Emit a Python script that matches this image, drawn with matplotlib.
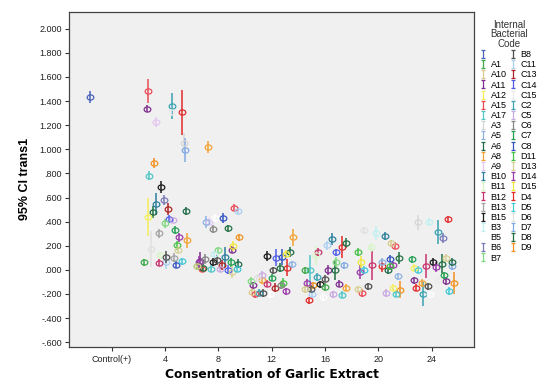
import numpy as np
import pandas as pd
import matplotlib
matplotlib.use("Agg")
import matplotlib.pyplot as plt
from matplotlib.path import Path
from matplotlib.transforms import Affine2D
from matplotlib.lines import Line2D
from matplotlib.ticker import FuncFormatter

plt.rcParams['font.family'] = ['Liberation Sans', 'DejaVu Sans']

# legend order and colours (SPSS style palette)
codes = ["", "A1", "A10", "A11", "A12", "A15", "A17", "A3", "A5", "A6", "A8", "A9",
         "B10", "B11", "B12", "B13", "B15", "B3", "B5", "B6", "B7",
         "B8", "C11", "C13", "C14", "C15", "C2", "C5", "C6", "C7", "C8",
         "D11", "D13", "D14", "D15", "D4", "D5", "D6", "D7", "D8", "D9"]
code_colors = ["#4a63b8", "#3ea84a", "#d8cb8e", "#7e2f8e", "#f3ee5c", "#ea4a55", "#4fc6c6",
               "#d6d6d6", "#8fb2e2", "#1f6b4a", "#f5a233", "#e6c6f2",
               "#2b7f9c", "#d6f5c6", "#c8336e", "#a3a3a3", "#1c1c1c", "#bff0f2", "#ffffff",
               "#7a7ab8", "#7fd87f",
               "#505050", "#a8d0f2", "#b02424", "#4f5ce8", "#ebebeb", "#3aa2b2", "#c9a9e2",
               "#868686", "#22a052", "#3454c2",
               "#44c044", "#d8d092", "#9a3aa8", "#f0e83e", "#e22a2a", "#42c8d8", "#e0e0e0",
               "#82aae2", "#207042", "#f29222"]

# points: code, x position, mean, half width of 95% CI
pt_code = ["",
           "A15", "A11", "A9", "C2", "C15", "D4", "A3", "D7", "A8", "D9", "A17", "B15",
           "B6", "B10", "D8", "A12", "C13", "A6", "C14", "C5", "B7", "C7", "B13", "D14",
           "A8", "D11", "D6", "D13", "A5", "A9", "B5", "C8", "C6", "D8", "A15", "C11",
           "D9", "D15", "A11",
           "A1", "B12", "B11", "B8", "B13", "C8", "C11", "D5", "D14", "D11", "B7", "B3",
           "B10", "C6", "A11", "B15", "B8", "C7", "A6", "C13", "A10", "D8", "A15", "A17",
           "C14", "D13", "C5", "D5",
           "B15", "C14", "C8", "D15", "A6", "B8", "D8", "D4", "C5", "C7", "D11", "B7",
           "A8", "D6", "A11", "A10", "C2", "A15", "B8", "B5", "C13", "C6", "B12", "D14",
           "A8", "A5", "B10", "C11", "D8", "D4", "B12", "B11", "C14", "B7", "D7", "D11",
           "D6", "B3", "B11", "D15", "D14", "D5", "B12", "A1", "A17", "C2", "B8", "A11",
           "D8", "D14", "D9", "A10", "B15", "A1", "B8", "C11", "D4", "B5", "C5", "A11",
           "A8", "A17", "D13", "A15", "B8",
           "A3", "B3", "D4", "C2", "B6", "B10", "A15", "A10", "D8", "C7", "A5", "C8",
           "D11", "D14", "D4", "A6", "B15", "D13", "A6", "D7", "D8", "D14", "B12", "A12",
           "D5", "C7", "A5", "A11", "D9", "A11", "A8", "C15", "D4", "A12", "D9", "B8",
           "C2", "B5", "D5", "C5", "A17"]
pt_x = [-1.63,
        2.75, 2.62, 3.30, 4.50, 4.45, 5.25, 5.42, 5.47, 7.20, 3.20, 2.82, 3.67,
        3.92, 3.35, 3.10, 2.70, 4.25, 5.55, 4.32, 4.62, 4.00, 4.75, 3.57, 5.05,
        5.62, 4.87, 2.92, 5.00, 7.05, 7.32, 7.75, 8.32, 7.57, 8.75, 9.20, 9.45,
        9.55, 9.10, 9.05,
        2.45, 3.52, 3.60, 4.07, 4.67, 4.82, 4.05, 5.30, 6.52, 6.40, 8.00, 7.70,
        8.50, 7.00, 6.62, 7.62, 7.87, 8.93, 9.50, 8.25, 6.37, 6.87, 6.75, 7.45,
        8.75, 9.00, 8.12, 9.38,
        11.67, 12.32, 12.80, 13.10, 13.37, 12.07, 12.62, 13.12, 11.25, 12.00, 12.87, 10.45,
        11.25, 10.87, 10.62, 10.50, 11.05, 10.75, 11.37, 11.87, 12.25, 12.70, 11.62, 13.05,
        13.62, 13.50, 16.50, 16.13, 17.57, 17.25, 15.50, 15.30, 16.83, 16.87, 17.45, 18.50,
        18.95, 19.80, 19.45, 18.70, 18.62, 18.95, 19.55, 14.50, 14.87, 15.37, 16.00, 16.25,
        16.75, 14.62, 15.12, 14.50, 15.62, 16.00, 14.95, 15.05, 14.80, 15.87, 16.62, 17.05,
        17.62, 17.32, 18.50, 18.80, 19.20,
        22.95, 23.80, 25.25, 24.50, 24.87, 20.50, 21.25, 20.95, 21.55, 22.50, 20.25, 20.87,
        20.87, 21.12, 20.30, 20.75, 24.12, 25.05, 25.57, 25.50, 24.75, 24.30, 23.55, 22.70,
        22.95, 24.95, 21.50, 25.05, 25.67, 22.70, 23.25, 24.45, 22.87, 21.12, 21.62, 23.70,
        23.37, 23.87, 25.30, 20.62, 21.30]
pt_mean = [1.431,
           1.486, 1.336, 1.226, 1.360, 1.310, 1.306, 1.056, 0.995, 1.018, 0.887, 0.782, 0.685,
           0.579, 0.546, 0.482, 0.440, 0.504, 0.488, 0.421, 0.413, 0.385, 0.330, 0.302, 0.269,
           0.244, 0.202, 0.174, 0.168, 0.394, 0.400, 0.430, 0.432, 0.338, 0.346, 0.515, 0.490,
           0.270, 0.200, 0.168,
           0.061, 0.058, 0.120, 0.107, 0.102, 0.044, 0.066, 0.072, 0.063, 0.030, 0.163, 0.130,
           0.107, 0.088, 0.072, 0.066, 0.080, 0.061, 0.052, 0.038, 0.030, 0.019, 0.011, 0.011,
           0.002, -0.017, 0.011, 0.011,
           0.113, 0.102, 0.107, 0.135, 0.149, -0.003, 0.019, 0.019, -0.040, -0.064, -0.109, -0.092,
           -0.087, -0.064, -0.128, -0.184, -0.190, -0.203, -0.192, -0.203, -0.147, -0.128, -0.114, -0.178,
           0.269, 0.047, 0.252, 0.202, 0.225, 0.191, 0.149, 0.120, 0.144, 0.066, 0.038, 0.149,
           0.329, 0.307, 0.186, 0.066, -0.017, 0.002, 0.038, -0.003, -0.003, -0.059, -0.073, -0.003,
           -0.003, -0.109, -0.128, -0.162, -0.120, -0.142, -0.156, -0.203, -0.253, -0.225, -0.203, -0.114,
           -0.147, -0.206, -0.162, -0.192, -0.137,
           0.394, 0.400, 0.419, 0.316, 0.266, 0.280, 0.200, 0.219, 0.102, 0.086, 0.065, 0.094,
           0.030, 0.038, 0.030, -0.003, 0.066, 0.099, 0.066, 0.030, 0.052, 0.025, 0.030, 0.017,
           0.002, -0.045, -0.053, -0.092, -0.109, -0.087, -0.109, -0.081, -0.147, -0.147, -0.164, -0.137,
           -0.197, -0.203, -0.175, -0.192, -0.197]
pt_err = [0.05,
          0.10, 0.03, 0.04, 0.11, 0.03, 0.19, 0.08, 0.10, 0.05, 0.04, 0.04, 0.05,
          0.04, 0.09, 0.05, 0.16, 0.05, 0.03, 0.03, 0.02, 0.04, 0.03, 0.04, 0.04,
          0.06, 0.04, 0.15, 0.03, 0.05, 0.03, 0.03, 0.04, 0.03, 0.03, 0.03, 0.03,
          0.03, 0.04, 0.03,
          0.03, 0.03, 0.03, 0.05, 0.04, 0.03, 0.06, 0.03, 0.05, 0.03, 0.03, 0.03,
          0.08, 0.04, 0.08, 0.03, 0.04, 0.04, 0.04, 0.04, 0.03, 0.03, 0.03, 0.03,
          0.04, 0.05, 0.03, 0.03,
          0.04, 0.07, 0.07, 0.03, 0.04, 0.03, 0.04, 0.07, 0.03, 0.03, 0.04, 0.03,
          0.03, 0.03, 0.03, 0.03, 0.03, 0.03, 0.03, 0.03, 0.04, 0.03, 0.03, 0.03,
          0.07, 0.03, 0.05, 0.04, 0.04, 0.09, 0.03, 0.08, 0.03, 0.04, 0.03, 0.03,
          0.03, 0.06, 0.04, 0.05, 0.06, 0.03, 0.12, 0.03, 0.13, 0.03, 0.03, 0.04,
          0.08, 0.03, 0.03, 0.03, 0.03, 0.03, 0.03, 0.03, 0.03, 0.03, 0.03, 0.03,
          0.03, 0.03, 0.03, 0.03, 0.03,
          0.06, 0.03, 0.03, 0.10, 0.04, 0.03, 0.03, 0.03, 0.05, 0.03, 0.03, 0.03,
          0.03, 0.03, 0.05, 0.03, 0.03, 0.03, 0.03, 0.03, 0.08, 0.04, 0.10, 0.03,
          0.03, 0.03, 0.03, 0.03, 0.09, 0.03, 0.03, 0.03, 0.03, 0.03, 0.07, 0.03,
          0.10, 0.03, 0.03, 0.03, 0.03]

x_ticks = [0, 4, 8, 12, 16, 20, 24]
x_tick_labels = ["Control(+)", "4", "8", "12", "16", "20", "24"]
y_ticks = [-0.6, -0.4, -0.2, 0.0, 0.2, 0.4, 0.6, 0.8, 1.0, 1.2, 1.4, 1.6, 1.8, 2.0]

df = pd.DataFrame({"code": pt_code, "x": pt_x, "mean": pt_mean, "err": pt_err})
color_of = dict(zip(codes, code_colors))

# slightly flattened open circle, like the SPSS marker
ellipse = Path.unit_circle().transformed(Affine2D().scale(1.0, 0.78))
# error bar symbol for the legend
ibar = Path([(-0.45, 1), (0.45, 1), (0, 1), (0, -1), (-0.45, -1), (0.45, -1)],
            [Path.MOVETO, Path.LINETO, Path.MOVETO, Path.LINETO, Path.MOVETO, Path.LINETO])

fig = plt.figure(figsize=(5.41, 3.83), dpi=100)
ax = fig.add_axes([0.1275, 0.094, 0.749, 0.875])
ax.set_facecolor("#f0f0f0")

for code, grp in df.groupby("code", sort=False):
    c = color_of[code]
    ax.errorbar(grp["x"], grp["mean"], yerr=grp["err"], fmt="none",
                ecolor=c, elinewidth=1.1, capsize=0, zorder=2)
    ax.plot(grp["x"], grp["mean"], linestyle="none", marker=ellipse, markersize=4.8,
            markerfacecolor="none", markeredgecolor=c, markeredgewidth=0.9, zorder=3)

ax.set_xlim(-3.2, 27.2)
ax.set_ylim(-0.64, 2.14)
ax.set_xticks(x_ticks)
ax.set_xticklabels(x_tick_labels)
ax.set_yticks(y_ticks)


def fmt_y(v, pos):
    s = f"{v:.3f}"
    if s.startswith("0."):
        s = s[1:]
    elif s.startswith("-0."):
        s = "-" + s[2:]
    return s


ax.yaxis.set_major_formatter(FuncFormatter(fmt_y))
ax.tick_params(axis="both", labelsize=6.5, length=3, width=0.8, colors="#333333",
               labelcolor="#222222", pad=2)
ax.tick_params(axis="x", pad=3)
for sp in ax.spines.values():
    sp.set_color("#444444")
    sp.set_linewidth(0.9)

ax.set_xlabel("Consentration of Garlic Extract", fontsize=8.8, fontweight="bold",
              family=["DejaVu Sans"], labelpad=3)
ax.set_ylabel("95% CI trans1", fontsize=9, fontweight="bold",
              family=["Liberation Sans Narrow", "Liberation Sans"], labelpad=6)

handles = [Line2D([], [], linestyle="none", marker=ibar, markersize=6,
                  color=c, markeredgewidth=0.9) for c in code_colors]
leg = fig.legend(handles, codes, loc="upper left", bbox_to_anchor=(0.877, 0.965),
                 ncol=2, frameon=False, fontsize=6.5, title="Internal\nBacterial\nCode",
                 title_fontsize=7, handlelength=0.6, handletextpad=0.5,
                 columnspacing=0.4, labelspacing=0.13, borderpad=0.2)
leg.get_title().set_multialignment("center")
leg.get_title().set_color("#333333")
leg.get_title().set_linespacing(0.95)

fig.savefig("out.png", dpi=100)
